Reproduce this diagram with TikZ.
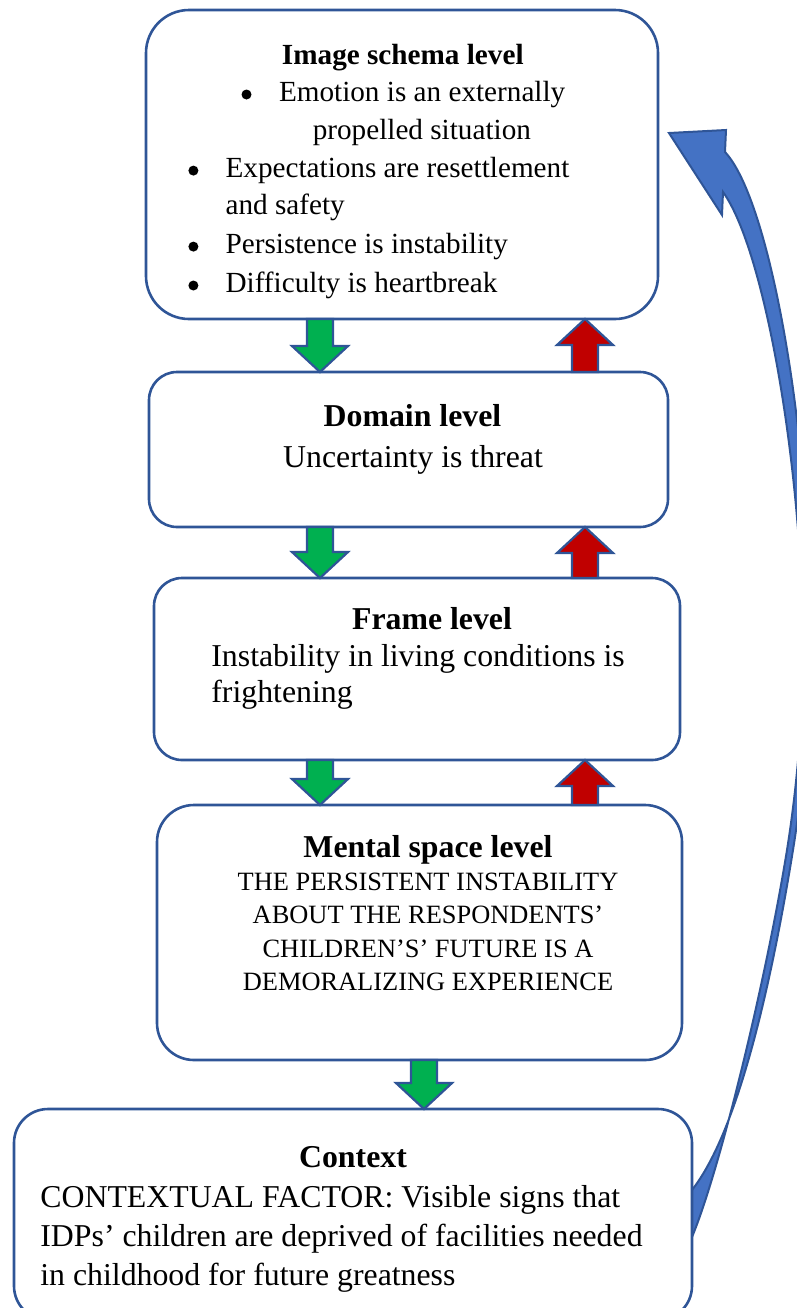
\documentclass[tikz,border=0pt]{standalone}
\usepackage{fontspec}
\setmainfont{Liberation Serif}
\usetikzlibrary{calc}
\definecolor{boxblue}{RGB}{47,85,151}
\definecolor{arrowblue}{RGB}{68,114,196}
\definecolor{grn}{RGB}{0,176,80}
\definecolor{rd}{RGB}{192,0,0}
\newcommand\blockarrow[3]{%
  \coordinate (ba-t) at (#2);
  \coordinate (ba-h) at (#3);
  \coordinate (ba-b) at ($(ba-h)!13pt!(ba-t)$);
  \filldraw[#1] ($(ba-t)!6.5pt!90:(ba-h)$) -- ($(ba-b)!6.5pt!-90:(ba-t)$) -- ($(ba-b)!14pt!-90:(ba-t)$) -- (ba-h) -- ($(ba-b)!14pt!90:(ba-t)$) -- ($(ba-b)!6.5pt!90:(ba-t)$) -- ($(ba-t)!6.5pt!-90:(ba-h)$) -- cycle;}
\tikzset{
  lvlbox/.style={rectangle, draw=boxblue, line width=1.3pt, fill=white, rounded corners=#1, inner sep=0pt, outer sep=0pt},
  garrow/.style={fill=grn, draw=boxblue, line width=1.1pt, line join=miter},
  rarrow/.style={fill=rd, draw=boxblue, line width=1.1pt, line join=miter},
  bul/.style={circle, fill=black, inner sep=0pt, minimum size=5pt},
  hdA/.style={font=\fontsize{14.6pt}{17pt}\selectfont\bfseries, inner sep=0pt},
  txA/.style={font=\fontsize{14.6pt}{17pt}\selectfont, inner sep=0pt},
  hdB/.style={font=\fontsize{15.9pt}{19pt}\selectfont\bfseries, inner sep=0pt},
  txB/.style={font=\fontsize{15.9pt}{19pt}\selectfont, inner sep=0pt},
  txC/.style={font=\fontsize{13.2pt}{16pt}\selectfont, inner sep=0pt},
}
\begin{document}
\begin{tikzpicture}[x=0.5pt,y=-0.5pt]
\useasboundingbox (0,0) rectangle (797,1308);
\clip (0,0) rectangle (797,1308);
% curved feedback arrow
\filldraw[fill=arrowblue, draw=boxblue, line width=1pt, line join=miter]
  (669,133) -- (726,130) -- (725,152)
  .. controls (770,200) and (810,430) .. (810,630)
  .. controls (810,720) and (802.6,790) .. (793,850)
  .. controls (772,980) and (739,1130) .. (692,1190)
  -- (640,1250) -- (640,1300) -- (692,1237)
  .. controls (720,1170) and (766,980) .. (787,850)
  .. controls (796.6,790) and (803,720) .. (803,650)
  .. controls (803,470) and (765,250) .. (723,192)
  -- (722,215) -- cycle;
% boxes
\node[lvlbox=21.5pt, minimum width=256pt, minimum height=154.5pt] (b1) at (402,164.5) {};
\node[lvlbox=14pt, minimum width=259.5pt, minimum height=77.5pt] (b2) at (408.5,449.5) {};
\node[lvlbox=14pt, minimum width=263pt, minimum height=91pt] (b3) at (417,669) {};
\node[lvlbox=18.5pt, minimum width=262.5pt, minimum height=127.5pt] (b4) at (419.5,932.5) {};
\node[lvlbox=17pt, minimum width=339pt, minimum height=105.5pt] (b5) at (353,1214.5) {};
% arrow columns
\coordinate (gx) at (320,0);
\coordinate (rx) at (585,0);
\coordinate (gx4) at (424,0);
\blockarrow{garrow}{b1.south -| gx}{b2.north -| gx}
\blockarrow{rarrow}{b2.north -| rx}{b1.south -| rx}
\blockarrow{garrow}{b2.south -| gx}{b3.north -| gx}
\blockarrow{rarrow}{b3.north -| rx}{b2.south -| rx}
\blockarrow{garrow}{b3.south -| gx}{b4.north -| gx}
\blockarrow{rarrow}{b4.north -| rx}{b3.south -| rx}
\blockarrow{garrow}{b4.south -| gx4}{b5.north -| gx4}
% box 1 text
\node[hdA, anchor=base] (h1) at (402.8,64.2) {Image schema level};
\node[bul] (u1) at (246.5,94.5) {};
\node[txA, anchor=base west] (l1a) at (278.6,101.4) {Emotion is an externally};
\node[txA, anchor=base west] (l1b) at (312.4,139.3) {propelled situation};
\node[bul] (u2) at (193.4,170.6) {};
\node[txA, anchor=base west] (l2a) at (225.2,177.5) {Expectations are resettlement};
\node[txA, anchor=base west] (l2b) at (225.2,214.7) {and safety};
\node[bul] (u3) at (193.4,246.6) {};
\node[txA, anchor=base west] (l3) at (225.2,253.5) {Persistence is instability};
\node[bul] (u4) at (193.4,285.5) {};
\node[txA, anchor=base west] (l4) at (225.2,292.4) {Difficulty is heartbreak};
% box 2 text
\node[hdB, anchor=base] (h2) at (412.5,426) {Domain level};
\node[txB, anchor=base] (d2) at (413,467) {Uncertainty is threat};
% box 3 text
\node[hdB, anchor=base] (h3) at (432,629) {Frame level};
\node[txB, anchor=base west] (d3a) at (211,666) {Instability in living conditions is};
\node[txB, anchor=base west] (d3b) at (211,702.6) {frightening};
% box 4 text
\node[hdB, anchor=base] (h4) at (428,857) {Mental space level};
\node[txC, anchor=base] (d4a) at (428,890) {THE PERSISTENT INSTABILITY};
\node[txC, anchor=base] (d4b) at (428,923.5) {ABOUT THE RESPONDENTS’};
\node[txC, anchor=base] (d4c) at (428,957) {CHILDREN’S’ FUTURE IS A};
\node[txC, anchor=base] (d4d) at (428,990.5) {DEMORALIZING EXPERIENCE};
% box 5 text
\node[hdB, anchor=base] (h5) at (353,1167) {Context};
\node[txB, anchor=base west] (d5a) at (40,1207) {CONTEXTUAL FACTOR: Visible signs that};
\node[txB, anchor=base west] (d5b) at (40,1246.5) {IDPs’ children are deprived of facilities needed};
\node[txB, anchor=base west] (d5c) at (40,1285) {in childhood for future greatness};
\end{tikzpicture}
\end{document}
